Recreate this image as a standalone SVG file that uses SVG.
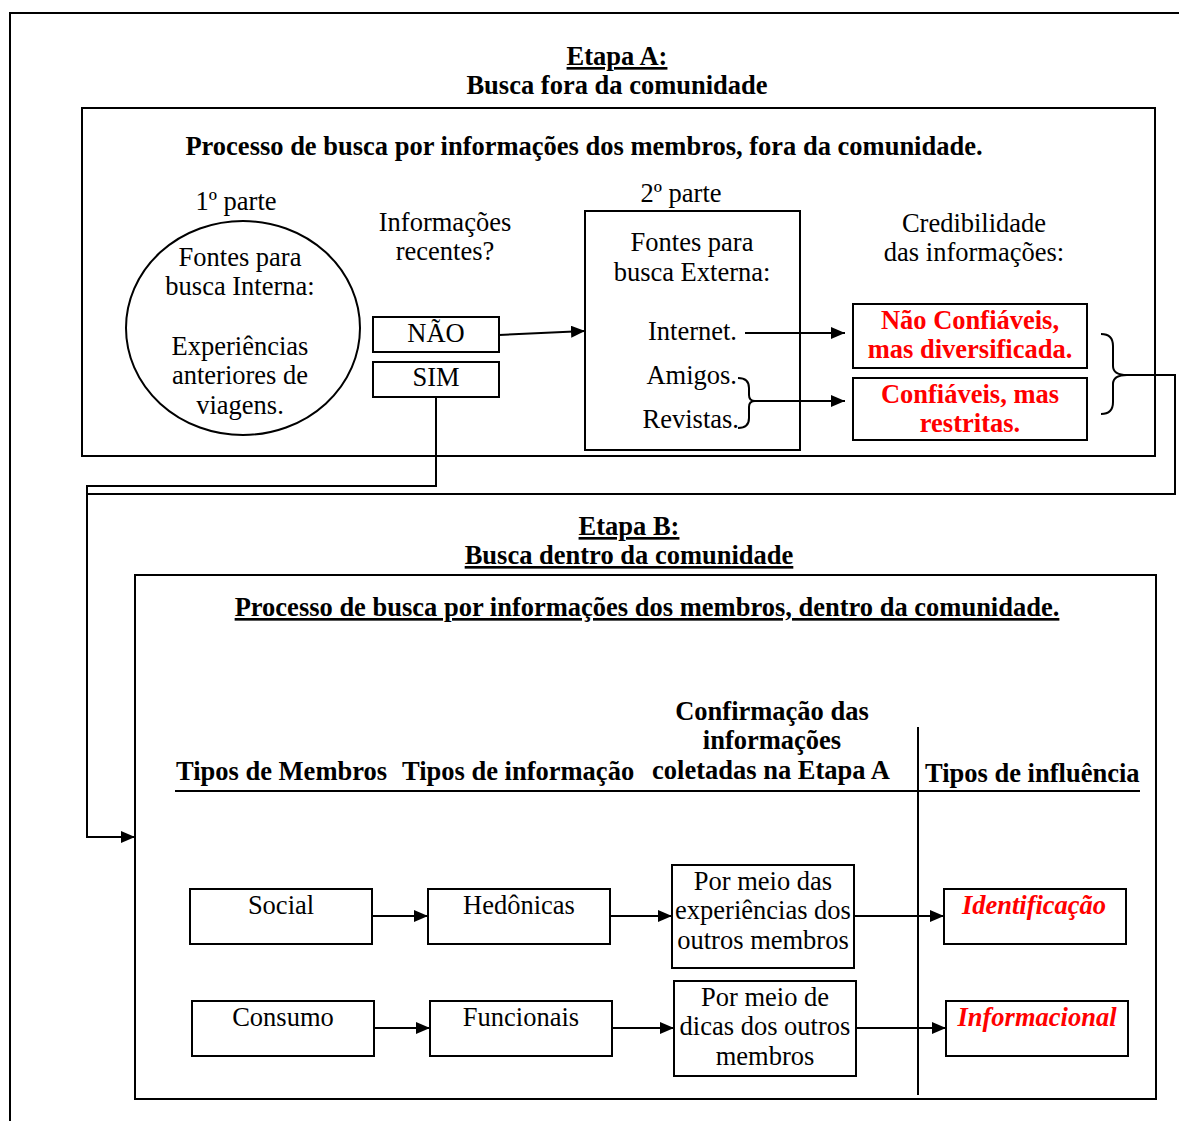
<svg xmlns="http://www.w3.org/2000/svg" width="1179" height="1121" viewBox="0 0 1179 1121">
  <style>
    .t { font-family: "Liberation Serif", "Times New Roman", serif; font-size: 26.5px; fill: #000; }
    .b { font-weight: bold; }
    .r { fill: #ff0000; font-weight: bold; }
    .i { font-style: italic; }
    .u { text-decoration: underline; }
    .m { text-anchor: middle; }
    .e { text-anchor: end; }
    .box { fill: none; stroke: #000; stroke-width: 2; }
    .ln { fill: none; stroke: #000; stroke-width: 2; }
  </style>
  <defs>
    <marker id="arr" markerUnits="userSpaceOnUse" markerWidth="16" markerHeight="14" refX="14" refY="6" orient="auto">
      <path d="M0,0 L14,6 L0,12 z" fill="#000"/>
    </marker>
  </defs>
  <rect width="1179" height="1121" fill="#fff"/>

  <!-- page frame -->
  <path class="ln" d="M10,1121 V13 H1179"/>

  <!-- Stage A -->
  <g id="etapa-a-title">
    <text class="t b m u" x="617" y="65">Etapa A:</text>
    <text class="t b m" x="617" y="94">Busca fora da comunidade</text>
  </g>
  <g id="etapa-a">
    <rect class="box" x="82" y="108" width="1073" height="348"/>
    <text class="t b m" x="584" y="155">Processo de busca por informações dos membros, fora da comunidade.</text>
  </g>
  <g id="parte1">
    <text class="t m" x="236" y="210">1º parte</text>
    <ellipse class="box" cx="243" cy="328" rx="117" ry="107"/>
    <text class="t m" x="240" y="266">Fontes para</text>
    <text class="t m" x="240" y="295">busca Interna:</text>
    <text class="t m" x="240" y="355">Experiências</text>
    <text class="t m" x="240" y="384">anteriores de</text>
    <text class="t m" x="240" y="414">viagens.</text>
  </g>
  <g id="recentes">
    <text class="t m" x="445" y="231">Informações</text>
    <text class="t m" x="445" y="260">recentes?</text>
  </g>
  <g id="nao">
    <rect class="box" x="373" y="317" width="126" height="35"/>
    <text class="t m" x="436" y="342">NÃO</text>
  </g>
  <g id="sim">
    <rect class="box" x="373" y="362" width="126" height="35"/>
    <text class="t m" x="436" y="386">SIM</text>
  </g>
  <g id="parte2">
    <text class="t m" x="681" y="202">2º parte</text>
    <rect class="box" x="585" y="211" width="215" height="239"/>
    <text class="t m" x="692" y="251">Fontes para</text>
    <text class="t m" x="692" y="281">busca Externa:</text>
    <text class="t e" x="737" y="340">Internet.</text>
    <text class="t e" x="737" y="384">Amigos.</text>
    <text class="t e" x="739" y="428">Revistas.</text>
  </g>
  <g id="credibilidade">
    <text class="t m" x="974" y="232">Credibilidade</text>
    <text class="t m" x="974" y="261">das informações:</text>
  </g>
  <g id="nao-confiaveis">
    <rect class="box" x="853" y="304" width="234" height="64"/>
    <text class="t r m" x="970" y="329">Não Confiáveis,</text>
    <text class="t r m" x="970" y="358">mas diversificada.</text>
  </g>
  <g id="confiaveis">
    <rect class="box" x="853" y="378" width="234" height="62"/>
    <text class="t r m" x="970" y="403">Confiáveis, mas</text>
    <text class="t r m" x="970" y="432">restritas.</text>
  </g>

  <!-- Stage B -->
  <g id="etapa-b-title">
    <text class="t b m u" x="629" y="535">Etapa B:</text>
    <text class="t b m u" x="629" y="564">Busca dentro da comunidade</text>
  </g>
  <g id="etapa-b">
    <rect class="box" x="135" y="575" width="1021" height="524"/>
    <text class="t b m u" x="647" y="616">Processo de busca por informações dos membros, dentro da comunidade.</text>
  </g>
  <g id="cabecalho">
    <text class="t b" x="176" y="780">Tipos de Membros</text>
    <text class="t b" x="402" y="780">Tipos de informação</text>
    <text class="t b m" x="772" y="720">Confirmação das</text>
    <text class="t b m" x="772" y="749">informações</text>
    <text class="t b m" x="771" y="779">coletadas na Etapa A</text>
    <text class="t b" x="925" y="782">Tipos de influência</text>
    <path class="ln" d="M175,791 H1140"/>
    <path class="ln" d="M918,727 V1095"/>
  </g>
  <g id="social">
    <rect class="box" x="190" y="889" width="182" height="55"/>
    <text class="t m" x="281" y="914">Social</text>
  </g>
  <g id="hedonicas">
    <rect class="box" x="428" y="889" width="182" height="55"/>
    <text class="t m" x="519" y="914">Hedônicas</text>
  </g>
  <g id="experiencias">
    <rect class="box" x="672" y="865" width="182" height="103"/>
    <text class="t m" x="763" y="890">Por meio das</text>
    <text class="t m" x="763" y="919">experiências dos</text>
    <text class="t m" x="763" y="949">outros membros</text>
  </g>
  <g id="identificacao">
    <rect class="box" x="944" y="889" width="182" height="55"/>
    <text class="t r i m" x="1034" y="914">Identificação</text>
  </g>
  <g id="consumo">
    <rect class="box" x="192" y="1001" width="182" height="55"/>
    <text class="t m" x="283" y="1026">Consumo</text>
  </g>
  <g id="funcionais">
    <rect class="box" x="430" y="1001" width="182" height="55"/>
    <text class="t m" x="521" y="1026">Funcionais</text>
  </g>
  <g id="dicas">
    <rect class="box" x="674" y="981" width="182" height="95"/>
    <text class="t m" x="765" y="1006">Por meio de</text>
    <text class="t m" x="765" y="1035">dicas dos outros</text>
    <text class="t m" x="765" y="1065">membros</text>
  </g>
  <g id="informacional">
    <rect class="box" x="946" y="1001" width="182" height="55"/>
    <text class="t r i m" x="1037" y="1026">Informacional</text>
  </g>

  <!-- connectors -->
  <g id="conectores">
    <path class="ln" d="M499,335 L585,331" marker-end="url(#arr)"/>
    <path class="ln" d="M745,333 H845" marker-end="url(#arr)"/>
    <path class="ln" d="M738,378 Q749,378 749,388 L749,395 Q749,401 755,401 Q749,401 749,407 L749,418 Q749,428 738,428"/>
    <path class="ln" d="M755,401 H845" marker-end="url(#arr)"/>
    <path class="ln" d="M1101,334 Q1113,334 1113,346 L1113,366 Q1113,375 1127,375 Q1113,375 1113,384 L1113,402 Q1113,414 1101,414"/>
    <path class="ln" d="M1127,375 H1175 V494 H87"/>
    <path class="ln" d="M436,397 V486 H87 V837 H135" marker-end="url(#arr)"/>
    <path class="ln" d="M372,916 H428" marker-end="url(#arr)"/>
    <path class="ln" d="M610,916 H672" marker-end="url(#arr)"/>
    <path class="ln" d="M854,916 H944" marker-end="url(#arr)"/>
    <path class="ln" d="M374,1028 H430" marker-end="url(#arr)"/>
    <path class="ln" d="M612,1028 H674" marker-end="url(#arr)"/>
    <path class="ln" d="M856,1028 H946" marker-end="url(#arr)"/>
  </g>
</svg>
